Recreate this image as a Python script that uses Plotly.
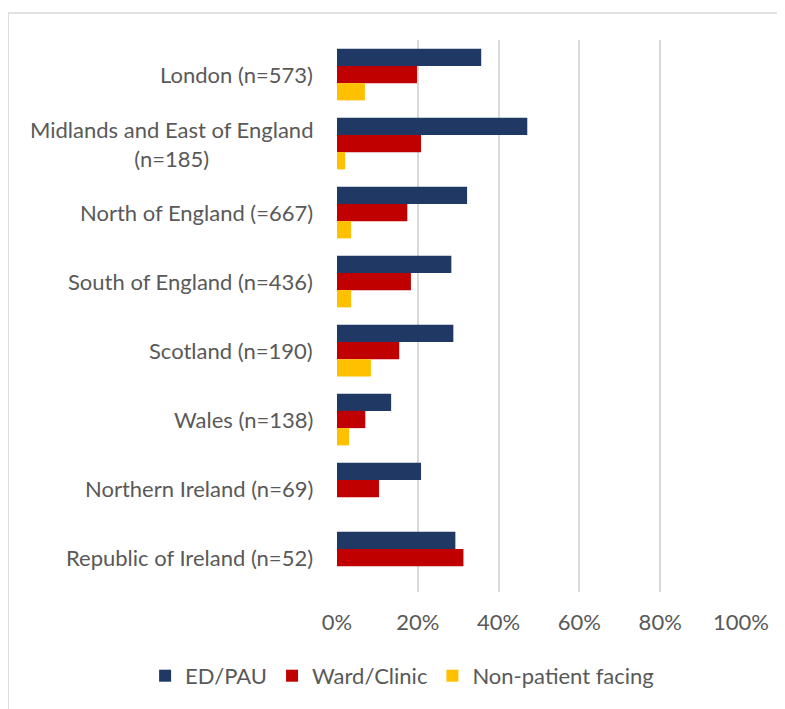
import plotly.graph_objects as go

categories = [
    "London (n=573)",
    "Midlands and East of England<br>(n=185)",
    "North of England (=667)",
    "South of England (n=436)",
    "Scotland (n=190)",
    "Wales (n=138)",
    "Northern Ireland (n=69)",
    "Republic of Ireland (n=52)",
]
ed_pau = [35.7, 47.1, 32.2, 28.3, 28.8, 13.4, 20.8, 29.3]
ward_clinic = [19.8, 20.8, 17.4, 18.3, 15.4, 7.0, 10.4, 31.3]
non_patient = [6.9, 2.0, 3.5, 3.5, 8.4, 3.0, 0.0, 0.0]
x_ticks = [0, 20, 40, 60, 80, 100]
x_tick_labels = ["0%", "20%", "40%", "60%", "80%", "100%"]

FONT = "Lato"
GREY = "#595959"
FS = 22

fig = go.Figure()
for name, vals, col in [
    ("ED/PAU", ed_pau, "#1F3864"),
    ("Ward/Clinic", ward_clinic, "#C00000"),
    ("Non-patient facing", non_patient, "#FFC000"),
]:
    fig.add_trace(go.Bar(y=categories, x=vals, name=name, orientation="h",
                         marker=dict(color=col, line=dict(width=0))))

for c in categories:
    fig.add_annotation(x=0, y=c, xref="paper", yref="y", text=c, showarrow=False,
                       xanchor="right", align="center", xshift=-22,
                       font=dict(family=FONT, size=FS, color=GREY))

# chart-area frame (only top and left edges are visible in the reference)
frame = dict(color="#D9D9D9", width=1.5)
fig.add_shape(type="line", xref="paper", yref="paper", x0=-0.814, x1=1.2, y0=1.049, y1=1.049,
              line=frame, layer="below")
fig.add_shape(type="line", xref="paper", yref="paper", x0=-0.814, x1=-0.814, y0=1.049, y1=-0.3,
              line=frame, layer="below")

fig.update_layout(
    width=777, height=701,
    margin=dict(l=329, r=44, t=32, b=117),
    paper_bgcolor="white", plot_bgcolor="white",
    barmode="group", bargap=0.25, bargroupgap=0,
    font=dict(family=FONT, size=FS, color=GREY),
    showlegend=True,
    legend=dict(orientation="h", x=-0.475, xanchor="left", y=-0.152, yanchor="middle",
                font=dict(family=FONT, size=FS, color=GREY), traceorder="normal"),
    xaxis=dict(range=[0, 100], tickvals=x_ticks, ticktext=x_tick_labels, showgrid=True,
               gridcolor="#D9D9D9", gridwidth=1.5, zeroline=False, showline=False,
               ticks="", ticklabelstandoff=15,
               tickfont=dict(family=FONT, size=FS, color=GREY), fixedrange=True),
    yaxis=dict(autorange="reversed", showticklabels=False, showgrid=False,
               zeroline=False, showline=False, ticks=""),
)

fig.write_html("out.html")
